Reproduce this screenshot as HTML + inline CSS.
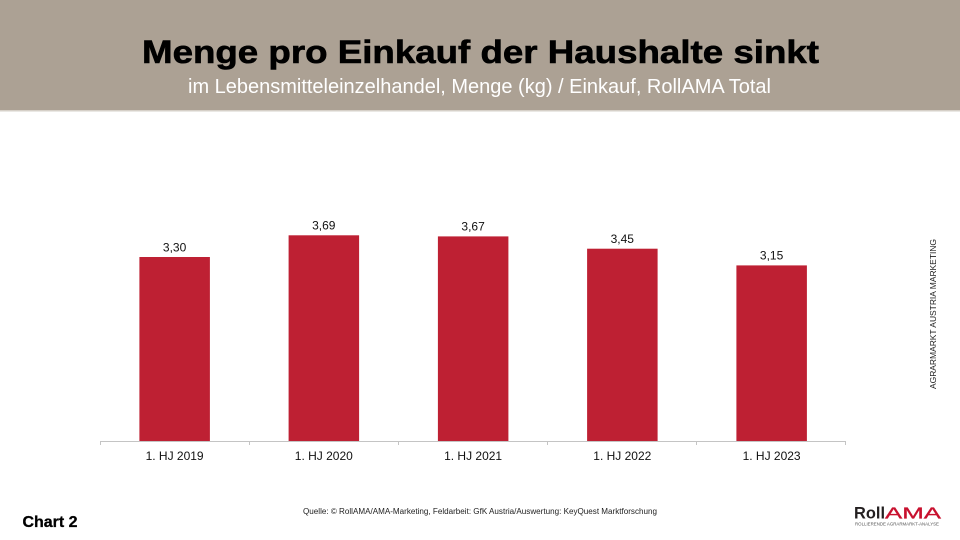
<!DOCTYPE html>
<html>
<head>
<meta charset="utf-8">
<style>
  html,body{margin:0;padding:0;background:#fff;}
  body{width:960px;height:540px;overflow:hidden;}
  svg{display:block;}
  text{font-family:"Liberation Sans", Arial, sans-serif;}
</style>
</head>
<body>
<svg width="960" height="540" viewBox="0 0 960 540" xmlns="http://www.w3.org/2000/svg">
  <!-- header band -->
  <rect x="0" y="0" width="960" height="110" fill="#aca194"/>
  <rect x="0" y="110" width="960" height="1.5" fill="#d6d0c8"/>
  <text x="142" y="63" font-size="32" font-weight="bold" fill="#000" stroke="#000" stroke-width="0.6" textLength="677" lengthAdjust="spacingAndGlyphs">Menge pro Einkauf der Haushalte sinkt</text>
  <text x="188" y="93" font-size="20" fill="#fff" textLength="583" lengthAdjust="spacingAndGlyphs">im Lebensmitteleinzelhandel, Menge (kg) / Einkauf, RollAMA Total</text>

  <!-- bars -->
  <g fill="#be2033">
    <rect x="139.4" y="257.0" width="70.5" height="184.0"/>
    <rect x="288.6" y="235.3" width="70.5" height="205.7"/>
    <rect x="437.9" y="236.4" width="70.5" height="204.6"/>
    <rect x="587.1" y="248.7" width="70.5" height="192.3"/>
    <rect x="736.4" y="265.4" width="70.5" height="175.6"/>
  </g>

  <!-- axis -->
  <g stroke="#c4c4c4" stroke-width="1">
    <line x1="100" y1="441.5" x2="846" y2="441.5"/>
    <line x1="100.5" y1="441" x2="100.5" y2="445"/>
    <line x1="249.5" y1="441" x2="249.5" y2="445"/>
    <line x1="398.5" y1="441" x2="398.5" y2="445"/>
    <line x1="547.5" y1="441" x2="547.5" y2="445"/>
    <line x1="696.5" y1="441" x2="696.5" y2="445"/>
    <line x1="845.5" y1="441" x2="845.5" y2="445"/>
  </g>

  <!-- value labels -->
  <g font-size="12" fill="#111" text-anchor="middle">
    <text x="174.6" y="251.5">3,30</text>
    <text x="323.8" y="229.5">3,69</text>
    <text x="473.1" y="230.5">3,67</text>
    <text x="622.3" y="243">3,45</text>
    <text x="771.6" y="259.5">3,15</text>
  </g>

  <!-- category labels -->
  <g font-size="12" fill="#111" text-anchor="middle">
    <text x="174.6" y="460">1. HJ 2019</text>
    <text x="323.8" y="460">1. HJ 2020</text>
    <text x="473.1" y="460">1. HJ 2021</text>
    <text x="622.3" y="460">1. HJ 2022</text>
    <text x="771.6" y="460">1. HJ 2023</text>
  </g>

  <!-- vertical side text -->
  <text transform="translate(936,389) rotate(-90)" font-size="8" fill="#222" textLength="150" lengthAdjust="spacingAndGlyphs">AGRARMARKT AUSTRIA MARKETING</text>

  <!-- source -->
  <text x="303" y="514" font-size="8" fill="#222" textLength="354" lengthAdjust="spacingAndGlyphs">Quelle: © RollAMA/AMA-Marketing, Feldarbeit: GfK Austria/Auswertung: KeyQuest Marktforschung</text>

  <!-- Chart 2 -->
  <text x="22.5" y="527" font-size="16" font-weight="bold" fill="#000" stroke="#000" stroke-width="0.3" textLength="55" lengthAdjust="spacingAndGlyphs">Chart 2</text>

  <!-- logo -->
  <text x="854" y="518.5" font-size="17" font-weight="bold" fill="#231f20" textLength="31" lengthAdjust="spacingAndGlyphs">Roll</text>
  <text x="885" y="518.5" font-size="16" fill="#c8102e" stroke="#c8102e" stroke-width="0.3" textLength="56" lengthAdjust="spacingAndGlyphs">AMA</text>
  <text x="855" y="525.5" font-size="4.5" fill="#555" textLength="84" lengthAdjust="spacingAndGlyphs">ROLLIERENDE AGRARMARKT-ANALYSE</text>
</svg>
</body>
</html>
